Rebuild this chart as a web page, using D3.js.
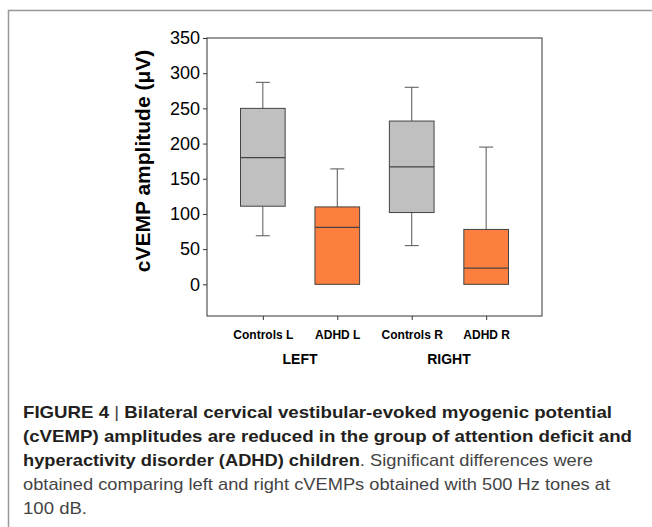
<!DOCTYPE html>
<html lang="en">
<head>
<meta charset="utf-8">
<title>cVEMP amplitude box plot</title>
<script src="https://cdn.jsdelivr.net/npm/d3@7"></script>
<style>
  body { margin: 0; background: #fff; }
  svg text { font-family: "Liberation Sans", Arial, sans-serif; }
</style>
</head>
<body>
<script>
/* data */
var categories = ["Controls L", "ADHD L", "Controls R", "ADHD R"];
var whiskerLow = [69, 0, 55, 0];
var q1 = [111, 0, 102, 0];
var median = [180, 81, 167, 23];
var q3 = [250, 110, 232, 78];
var whiskerHigh = [287, 164, 280, 195];
var groupColors = ["#c0c0c0", "#fd7f3f", "#c0c0c0", "#fd7f3f"];
var yTicks = [0, 50, 100, 150, 200, 250, 300, 350];
var sides = [["LEFT", "Controls L", "ADHD L"], ["RIGHT", "Controls R", "ADHD R"]];

var W = 652, H = 527;
var frame = {left: 207, right: 542, top: 38, bottom: 316};

var svg = d3.select("body").append("svg")
  .attr("width", W).attr("height", H);

/* outer panel border (only top and left show) */
svg.append("path")
  .attr("d", "M8.5," + H + "V10.5H" + W)
  .attr("fill", "none").attr("stroke", "#999").attr("stroke-width", 1.5);

var x = d3.scalePoint().domain(categories)
  .range([frame.left, frame.right]).padding(0.75);
var y = d3.scaleLinear().domain([-45, 350]).range([frame.bottom, frame.top]);

/* plot frame */
svg.append("rect")
  .attr("x", frame.left).attr("y", frame.top)
  .attr("width", frame.right - frame.left).attr("height", frame.bottom - frame.top)
  .attr("fill", "none").attr("stroke", "#333").attr("stroke-width", 1);

/* axes */
var yAxis = svg.append("g")
  .attr("transform", "translate(" + frame.left + ",0)")
  .call(d3.axisLeft(y).tickValues(yTicks).tickSize(4).tickPadding(3));
yAxis.select(".domain").remove();
yAxis.selectAll("line").attr("stroke", "#333");
yAxis.selectAll("text").style("font-size", "18px").attr("fill", "#000");

var xAxis = svg.append("g")
  .attr("transform", "translate(0," + frame.bottom + ")")
  .call(d3.axisBottom(x).tickSize(4).tickPadding(10));
xAxis.select(".domain").remove();
xAxis.selectAll("line").attr("stroke", "#333");
xAxis.selectAll("text").style("font-size", "12px").style("font-weight", "bold").attr("fill", "#000");

/* box plots */
var step = x.step();
var boxW = step * 0.6, capW = 14;
var g = svg.append("g");
categories.forEach(function(c, i) {
  var cx = x(c);
  g.append("line")
    .attr("x1", cx).attr("x2", cx)
    .attr("y1", y(q3[i])).attr("y2", y(whiskerHigh[i]))
    .attr("stroke", "#555");
  g.append("line")
    .attr("x1", cx - capW / 2).attr("x2", cx + capW / 2)
    .attr("y1", y(whiskerHigh[i])).attr("y2", y(whiskerHigh[i]))
    .attr("stroke", "#555");
  if (whiskerLow[i] < q1[i]) {
    g.append("line")
      .attr("x1", cx).attr("x2", cx)
      .attr("y1", y(q1[i])).attr("y2", y(whiskerLow[i]))
      .attr("stroke", "#555");
    g.append("line")
      .attr("x1", cx - capW / 2).attr("x2", cx + capW / 2)
      .attr("y1", y(whiskerLow[i])).attr("y2", y(whiskerLow[i]))
      .attr("stroke", "#555");
  }
  g.append("rect")
    .attr("x", cx - boxW / 2).attr("width", boxW)
    .attr("y", y(q3[i])).attr("height", y(q1[i]) - y(q3[i]))
    .attr("fill", groupColors[i]).attr("stroke", "#444").attr("stroke-width", 1);
  g.append("line")
    .attr("x1", cx - boxW / 2).attr("x2", cx + boxW / 2)
    .attr("y1", y(median[i])).attr("y2", y(median[i]))
    .attr("stroke", "#444").attr("stroke-width", 1.2);
});

/* LEFT / RIGHT group labels */
sides.forEach(function(s) {
  svg.append("text")
    .attr("x", (x(s[1]) + x(s[2])) / 2).attr("y", 364)
    .attr("text-anchor", "middle")
    .style("font-size", "14px").style("font-weight", "bold")
    .text(s[0]);
});

/* y axis title */
svg.append("text")
  .attr("transform", "translate(150,161) rotate(-90)")
  .attr("text-anchor", "middle")
  .style("font-size", "21px").style("font-weight", "bold")
  .text("cVEMP amplitude (\u03bcV)");

/* caption: [text, bold?] parts per line */
var capLines = [
  [["FIGURE 4 ", true], ["|", false], [" Bilateral cervical vestibular-evoked myogenic potential", true]],
  [["(cVEMP) amplitudes are reduced in the group of attention deficit and", true]],
  [["hyperactivity disorder (ADHD) children", true], [". Significant differences were", false]],
  [["obtained comparing left and right cVEMPs obtained with 500 Hz tones at", false]],
  [["100 dB.", false]]
];
var capWidths = [589, 609, 570, 587, 64];
capLines.forEach(function(line, i) {
  var t = svg.append("text")
    .attr("x", 23).attr("y", 418 + i * 24)
    .attr("textLength", capWidths[i]).attr("lengthAdjust", "spacingAndGlyphs")
    .style("font-size", "17px").attr("fill", "#231f20");
  line.forEach(function(part) {
    t.append("tspan")
      .style("font-weight", part[1] ? "bold" : "normal")
      .attr("fill", part[1] ? "#231f20" : "#444")
      .text(part[0]);
  });
});
</script>
</body>
</html>
